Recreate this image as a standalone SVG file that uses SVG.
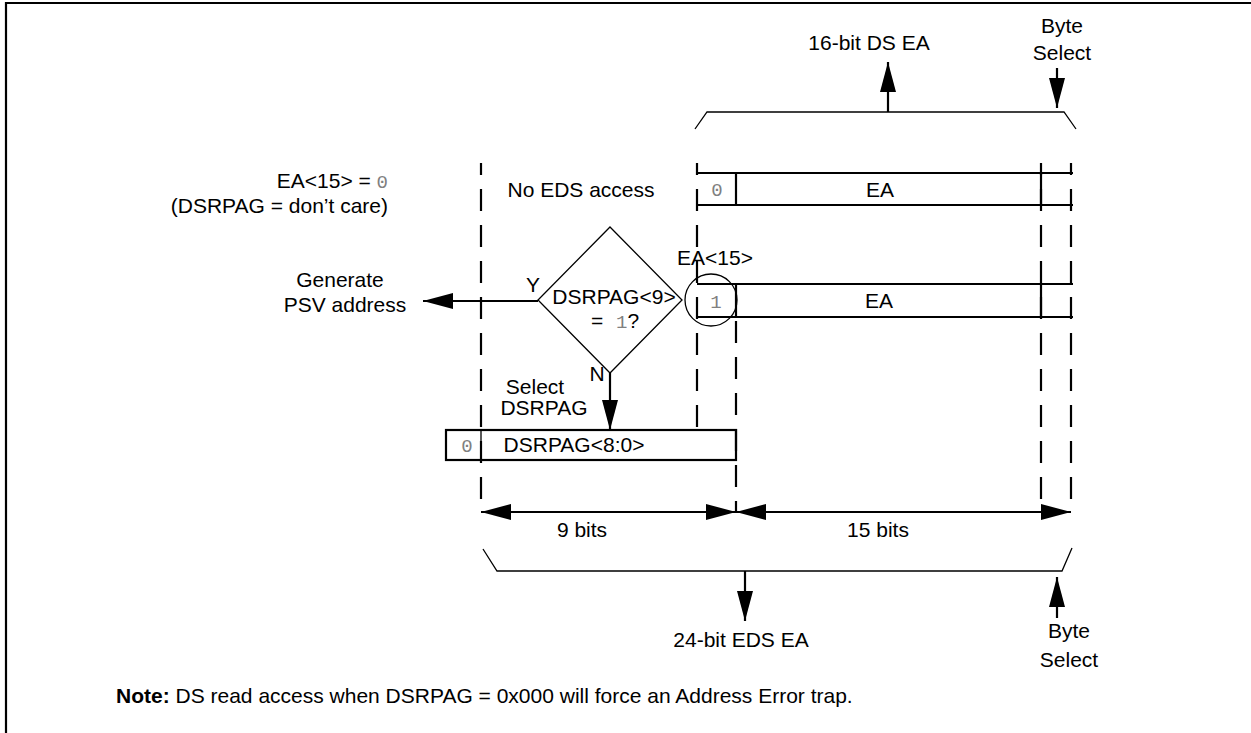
<svg xmlns="http://www.w3.org/2000/svg" width="1251" height="733" viewBox="0 0 1251 733">
<defs>
<style>
text{font-family:"Liberation Sans",Arial,sans-serif;font-size:21px;fill:#000}
.mono{font-family:"Liberation Mono","Courier New",monospace;fill:#808080;font-size:19px}
.m{text-anchor:middle}
.e{text-anchor:end}
.dash{stroke:#000;stroke-width:2.2;stroke-dasharray:22 14;stroke-dashoffset:10;fill:none}
.thick{stroke:#000;stroke-width:2.2;fill:none}
.thin{stroke:#000;stroke-width:1.3;fill:none}
</style>
<marker id="ah" viewBox="0 0 30 16" refX="30" refY="8" markerWidth="30" markerHeight="16" markerUnits="userSpaceOnUse" orient="auto">
<path d="M0,0 L30,8 L0,16 Z" fill="#000"/>
</marker>
</defs>
<rect width="1251" height="733" fill="#fff"/>
<path d="M6,733 V3 H1251" class="thick"/>

<g id="guides">
<line x1="481" y1="163" x2="481" y2="512" class="dash"/>
<line x1="697" y1="163" x2="697" y2="430" class="dash"/>
<line x1="736" y1="317" x2="736" y2="512" class="dash" style="stroke-dashoffset:32"/>
<line x1="1041" y1="163" x2="1041" y2="512" class="dash"/>
<line x1="1071" y1="163" x2="1071" y2="512" class="dash"/>
</g>

<g id="top-brace">
<path d="M695,129 L707,112 H1064 L1076,129" class="thin"/>
<text x="869" y="50" class="m">16-bit DS EA</text>
<text x="1062" y="33" class="m">Byte</text>
<text x="1062" y="60" class="m">Select</text>
</g>

<g id="row-ea0">
<line x1="697" y1="173" x2="1073" y2="173" class="thick"/>
<line x1="697" y1="205" x2="1073" y2="205" class="thick"/>
<line x1="736" y1="173" x2="736" y2="205" class="thick"/>
<line x1="1041" y1="173" x2="1041" y2="205" class="thick"/>
<text x="717" y="196" class="mono m">0</text>
<text x="880" y="197" class="m">EA</text>
</g>

<g id="row-ea1">
<line x1="697" y1="284" x2="1073" y2="284" class="thick"/>
<line x1="697" y1="317" x2="1073" y2="317" class="thick"/>
<line x1="736" y1="284" x2="736" y2="317" class="thick"/>
<line x1="1041" y1="284" x2="1041" y2="317" class="thick"/>
<text x="716" y="308" class="mono m">1</text>
<text x="879" y="308" class="m">EA</text>
<circle cx="711" cy="300" r="26" class="thin"/>
<text x="715" y="265" class="m">EA&lt;15&gt;</text>
</g>

<g id="labels-left">
<text x="388" y="188" class="e">EA&lt;15&gt; = <tspan class="mono">0</tspan></text>
<text x="388" y="213" class="e">(DSRPAG = don’t care)</text>
<text x="581" y="197" class="m">No EDS access</text>
<text x="340" y="287" class="m">Generate</text>
<text x="345" y="312" class="m">PSV address</text>
</g>

<g id="decision">
<path d="M610,227 L682,300 L610,373 L538,300 Z" class="thin"/>
<text x="614" y="304" class="m">DSRPAG&lt;9&gt;</text>
<text x="591" y="328">=</text>
<text x="616" y="328"><tspan class="mono">1</tspan>?</text>
<text x="533" y="292" class="m">Y</text>
<text x="597" y="381" class="m">N</text>
</g>

<g id="dsrpag-box">
<rect x="446" y="430" width="290" height="30" class="thick" fill="#fff"/>
<line x1="481" y1="430" x2="481" y2="442" class="thin"/>
<text x="467" y="452" class="mono m">0</text>
<text x="574" y="452" class="m">DSRPAG&lt;8:0&gt;</text>
<text x="535" y="394" class="m">Select</text>
<text x="544" y="415" class="m">DSRPAG</text>
</g>

<g id="bottom-brace">
<path d="M483,549 L497,571 H1062 L1072,548" class="thin"/>
<text x="582" y="537" class="m">9 bits</text>
<text x="878" y="537" class="m">15 bits</text>
<text x="741" y="647" class="m">24-bit EDS EA</text>
<text x="1069" y="638" class="m">Byte</text>
<text x="1069" y="667" class="m">Select</text>
</g>

<g id="connectors">
<line x1="538" y1="301" x2="423" y2="301" class="thick" marker-end="url(#ah)"/>
<line x1="610" y1="373" x2="610" y2="430" class="thick" marker-end="url(#ah)"/>
<line x1="888" y1="112" x2="888" y2="62" class="thick" marker-end="url(#ah)"/>
<line x1="1057" y1="68" x2="1057" y2="108" class="thick" marker-end="url(#ah)"/>
<line x1="745" y1="571" x2="745" y2="621" class="thick" marker-end="url(#ah)"/>
<line x1="1057" y1="618" x2="1057" y2="577" class="thick" marker-end="url(#ah)"/>
<line x1="600" y1="512" x2="481" y2="512" class="thick" marker-end="url(#ah)"/>
<line x1="600" y1="512" x2="736" y2="512" class="thick" marker-end="url(#ah)"/>
<line x1="900" y1="512" x2="736" y2="512" class="thick" marker-end="url(#ah)"/>
<line x1="900" y1="512" x2="1071" y2="512" class="thick" marker-end="url(#ah)"/>
</g>

<text x="116" y="703"><tspan font-weight="bold">Note:</tspan> DS read access when DSRPAG = 0x000 will force an Address Error trap.</text>
</svg>
